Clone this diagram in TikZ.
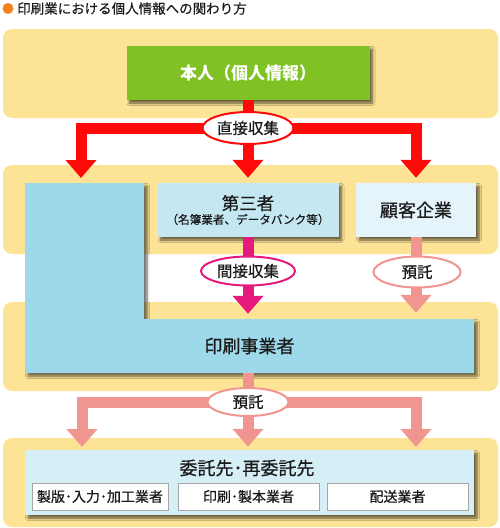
\documentclass[tikz,border=0pt]{standalone}
\usepackage{fontspec}
\setmainfont{Noto Sans CJK JP}
\newfontfamily\jpm{Noto Sans CJK JP}[FakeBold=0.6]
\newfontfamily\jpt{Noto Sans CJK JP}[FakeBold=0.3]
\usetikzlibrary{arrows.meta,shadows.blur,shapes.geometric,calc}
\definecolor{bandc}{HTML}{FDE396}
\definecolor{greenc}{HTML}{80C224}
\definecolor{redc}{HTML}{FF0A0A}
\definecolor{magc}{HTML}{E6197E}
\definecolor{salc}{HTML}{F0958F}
\definecolor{lblue}{HTML}{9ED9EA}
\definecolor{dblue}{HTML}{C4E7F1}
\definecolor{pblue}{HTML}{E4F4FA}
\definecolor{bblue}{HTML}{D6EFF7}
\definecolor{orangec}{HTML}{F58220}
\definecolor{txt}{HTML}{1A1A1A}
\begin{document}
\begin{tikzpicture}[x=1pt,y=-1pt,
  band/.style={fill=bandc, rounded corners=9pt},
  shad/.style={blur shadow={shadow xshift=3pt,shadow yshift=-3pt,shadow blur radius=2.5pt,shadow blur steps=6,shadow opacity=60}},
  boxc/.style={shad, inner sep=0pt, text=txt, align=center},
  oval/.style={ellipse, fill=white, line width=2pt, inner sep=0pt, text=txt, font=\jpm\fontsize{15.5}{16}\selectfont},
  tip/.style={-{Triangle[width=30pt,length=18pt]}},
  redl/.style={draw=redc, line width=11pt},
  magl/.style={draw=magc, line width=11pt},
  sall/.style={draw=salc, line width=11pt},
  subbox/.style={draw=gray!70, fill=white, line width=0.8pt, minimum height=27pt, inner sep=0pt, text=txt, font=\jpm\fontsize{14}{14}\selectfont}
]
\useasboundingbox (0,0) rectangle (500,528);
% title
\fill[orangec] (8,8.5) circle (5.5);
\node[anchor=west, inner sep=0pt, text=txt, font=\jpt\fontsize{13.5}{14}\selectfont] (title) at (17,8.5) {印刷業における個人情報への関わり方};
% bands
\fill[band] (3,29) rectangle (498,118);
\fill[band] (3,165) rectangle (498,254);
\fill[band] (3,302) rectangle (498,391);
\fill[band] (3,438) rectangle (498,527);
% top box
\node[boxc, fill=greenc, text=white, minimum width=243pt, minimum height=54pt, font=\fontsize{17}{17}\selectfont\bfseries] (hon) at (248,73) {本人（個人情報）};
% L shape
\path[shad, fill=lblue] (25,183) -- (144,183) -- (144,319) -- (474,319) -- (474,373) -- (25,373) -- cycle;
\node[inner sep=0pt, minimum width=449pt, minimum height=54pt, text=txt, font=\jpm\fontsize{18}{18}\selectfont] (ins) at (249.5,346) {印刷事業者};
\coordinate (colTop) at (81,183);
% second row boxes
\node[boxc, fill=dblue, minimum width=181pt, minimum height=54pt, font=\jpm] (dai) at (248,210) {{\fontsize{17.5}{20}\selectfont 第三者}\\[2pt]{\fontsize{11.6}{13}\selectfont （名簿業者、データバンク等）}};
\node[boxc, fill=pblue, minimum width=120pt, minimum height=54pt, font=\jpm\fontsize{18}{18}\selectfont] (kok) at (416,210) {顧客企業};
% bottom box
\node[boxc, fill=bblue, minimum width=449pt, minimum height=65pt] (itk) at (249.5,482.5) {};
\node[inner sep=0pt, text=txt, font=\jpm\fontsize{18}{18}\selectfont] (itkt) at (247,468) {委託先･再委託先};
\node[subbox, minimum width=136pt] (s1) at (100,496.5) {製版･入力･加工業者};
\node[subbox, minimum width=141pt] (s2) at (248.5,496.5) {印刷･製本業者};
\node[subbox, minimum width=141pt] (s3) at (397.5,496.5) {配送業者};
% red arrows
\coordinate (j1) at (248,128);
\draw[redl] (hon.south) -- (j1);
\draw[redl, tip, shorten >=5pt] (j1) -| (colTop);
\draw[redl, tip, shorten >=5pt] (j1) -- (dai.north);
\draw[redl, tip, shorten >=5pt] (j1) -| (kok.north);
\node[oval, draw=redc, minimum width=91pt, minimum height=32pt] (o1) at (j1) {直接収集};
% middle arrows
\draw[magl, tip, shorten >=5pt] (dai.south) -- (dai.south |- ins.north);
\node[oval, draw=magc, minimum width=94pt, minimum height=29pt] (o2) at (248,271) {間接収集};
\draw[sall, tip, shorten >=6pt] (kok.south) -- (kok.south |- ins.north);
\node[oval, draw=salc, minimum width=87pt, minimum height=31pt] (o3) at (417,272) {預託};
% bottom arrows
\coordinate (j3) at (248,402);
\coordinate (bl) at (82,450);
\coordinate (br) at (416,450);
\draw[sall] (ins.south -| j3) -- (j3);
\draw[sall, tip, shorten >=3pt] (j3) -| (bl);
\draw[sall, tip, shorten >=3pt] (j3) -- (j3 |- itk.north);
\draw[sall, tip, shorten >=3pt] (j3) -| (br);
\node[oval, draw=salc, minimum width=81pt, minimum height=28pt] (o4) at (j3) {預託};
\end{tikzpicture}
\end{document}
